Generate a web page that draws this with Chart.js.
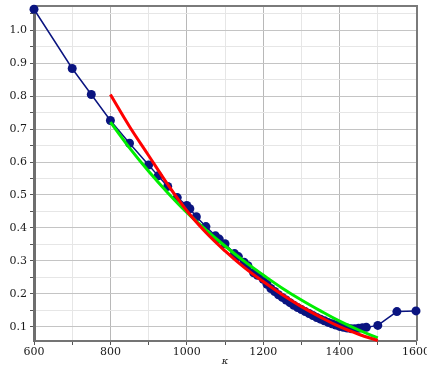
<!DOCTYPE html>
<html><head><meta charset="utf-8">
<script src="https://cdn.jsdelivr.net/npm/chart.js@4"></script>
<style>html,body{margin:0;padding:0;background:#fff;overflow:hidden}#wrap{position:relative;width:427px;height:366px}</style>
</head><body><div id="wrap"><canvas id="c" width="427" height="366"></canvas></div>
<script>
// Measured data (blue)
const kappa = [600, 700, 750, 800, 850, 900, 925, 950, 975, 1000, 1008, 1025, 1050, 1075, 1085, 1100, 1125, 1135, 1150, 1160, 1175, 1185, 1200, 1210, 1220, 1230, 1240, 1250, 1260, 1270, 1280, 1290, 1300, 1310, 1320, 1330, 1340, 1350, 1360, 1370, 1380, 1390, 1400, 1410, 1420, 1430, 1440, 1450, 1460, 1470, 1500, 1550, 1600];
const values = [1.064, 0.884, 0.805, 0.726, 0.657, 0.591, 0.558, 0.526, 0.492, 0.468, 0.458, 0.434, 0.404, 0.376, 0.366, 0.352, 0.322, 0.313, 0.296, 0.285, 0.264, 0.256, 0.244, 0.229, 0.216, 0.207, 0.197, 0.189, 0.181, 0.173, 0.165, 0.158, 0.152, 0.146, 0.140, 0.134, 0.128, 0.123, 0.118, 0.113, 0.109, 0.105, 0.101, 0.098, 0.096, 0.094, 0.094, 0.095, 0.097, 0.098, 0.104, 0.146, 0.148];
// Fit curves
const fitK = [800, 850, 900, 950, 1000, 1050, 1100, 1150, 1200, 1250, 1300, 1350, 1400, 1450, 1500];
const redFit = [0.805, 0.708, 0.620, 0.532, 0.452, 0.386, 0.330, 0.280, 0.237, 0.197, 0.161, 0.129, 0.100, 0.077, 0.058];
const greenFit = [0.721, 0.643, 0.572, 0.507, 0.447, 0.394, 0.345, 0.299, 0.257, 0.217, 0.181, 0.148, 0.117, 0.090, 0.066];
// Ticks
const xTickVals = [600, 700, 800, 900, 1000, 1100, 1200, 1300, 1400, 1500, 1600];
const xLabelVals = [600, 800, 1000, 1200, 1400, 1600];
const yTickVals = [0.1, 0.15, 0.2, 0.25, 0.3, 0.35, 0.4, 0.45, 0.5, 0.55, 0.6, 0.65, 0.7, 0.75, 0.8, 0.85, 0.9, 0.95, 1.0, 1.05];
const yLabelVals = [0.1, 0.2, 0.3, 0.4, 0.5, 0.6, 0.7, 0.8, 0.9, 1.0];

const isYMajor = v => yLabelVals.some(m => Math.abs(m - v) < 1e-6);
const isXMajor = v => xLabelVals.includes(v);
const pts = (xs, ys) => xs.map((x, i) => ({x, y: ys[i]}));

const frame = {
  id: 'frame',
  beforeDatasetsDraw(chart) {
    const {ctx, chartArea: a} = chart;
    ctx.save();
    ctx.strokeStyle = '#7a7a7a';
    ctx.lineWidth = 2;
    ctx.beginPath();
    ctx.moveTo(a.left, a.top);
    ctx.lineTo(a.right + 1, a.top);
    ctx.lineTo(a.right + 1, a.bottom);
    ctx.stroke();
    ctx.restore();
  }
};

const font = {family: 'DejaVu Serif', size: 11};

new Chart(document.getElementById('c'), {
  type: 'scatter',
  data: {
    datasets: [
      {data: pts(fitK, redFit), showLine: true, borderColor: '#ff0000', borderWidth: 3, pointRadius: 0, tension: 0.4, order: 0, clip: false},
      {data: pts(fitK, greenFit), showLine: true, borderColor: '#00ee00', borderWidth: 3, pointRadius: 0, tension: 0.4, order: 1, clip: false},
      {data: pts(kappa, values), showLine: true, borderColor: '#0a1480', backgroundColor: '#0a1480', borderWidth: 1.5, pointRadius: 4.5, pointBorderWidth: 0, order: 2, clip: false}
    ]
  },
  options: {
    responsive: false,
    devicePixelRatio: 1,
    animation: false,
    layout: {padding: {left: 0, top: 6, right: 11, bottom: 0}},
    plugins: {legend: {display: false}, tooltip: {enabled: false}},
    scales: {
      x: {
        type: 'linear', min: 600, max: 1600,
        afterBuildTicks: s => { s.ticks = xTickVals.map(v => ({value: v})); },
        afterFit: s => { s.height = 25; s.paddingLeft = 0; s.paddingRight = 0; },
        ticks: {callback: v => isXMajor(v) ? String(v) : '', maxRotation: 0, autoSkip: false, font, color: '#1a1a1a', padding: 1},
        grid: {color: c => isXMajor(c.tick.value) ? '#b8b8b8' : '#e6e6e6', tickColor: '#555', tickLength: 4, lineWidth: 1},
        border: {color: '#747474', width: 2},
        title: {display: true, text: 'κ', color: '#1a1a1a', font: {family: 'DejaVu Serif', size: 10, style: 'italic', lineHeight: 1}, padding: {top: 0, bottom: 0}}
      },
      y: {
        type: 'linear', min: 0.0566, max: 1.0738,
        afterBuildTicks: s => { s.ticks = yTickVals.map(v => ({value: v})); },
        afterFit: s => { s.width = 34; s.paddingTop = 0; s.paddingBottom = 0; },
        ticks: {callback: v => isYMajor(v) ? v.toFixed(1) : '', autoSkip: false, font, color: '#1a1a1a', padding: 3},
        grid: {color: c => isYMajor(c.tick.value) ? '#c4c4c4' : '#e6e6e6', tickColor: '#555', tickLength: 4, lineWidth: 1},
        border: {color: '#6e6e6e', width: 3}
      }
    }
  },
  plugins: [frame]
});
</script>
</body></html>
